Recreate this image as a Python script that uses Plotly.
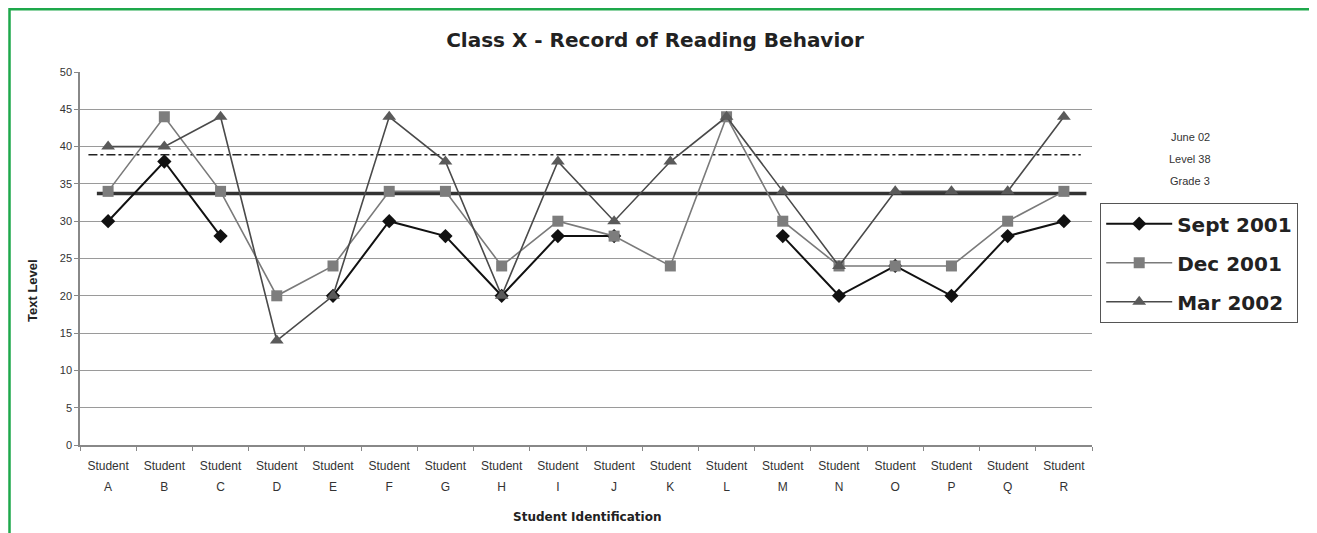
import plotly.graph_objects as go

students = ["A", "B", "C", "D", "E", "F", "G", "H", "I", "J", "K", "L", "M", "N", "O", "P", "Q", "R"]
tick_labels = ['<span style="font-size:12px">Student<br>' + s + '</span>' for s in students]

sept_2001 = [30, 38, 28, None, 20, 30, 28, 20, 28, 28, None, None, 28, 20, 24, 20, 28, 30]
dec_2001 = [34, 44, 34, 20, 24, 34, 34, 24, 30, 28, 24, 44, 30, 24, 24, 24, 30, 34]
mar_2002 = [40, 40, 44, 14, 20, 44, 38, 20, 38, 30, 38, 44, 34, 24, 34, 34, 34, 44]

grade_level = 33.7      # thick solid reference line
june_target = 38.9      # dash-dot reference line (June 02, Level 38)
target_notes = ["June 02", "Level 38", "Grade 3"]

# page has an 8px body margin, so the figure is drawn 8px smaller and offset
OFF = 8
W, H = 1317 - OFF, 533 - OFF
L, T = 80 - OFF, 72 - OFF
R = W - (1092 - OFF)
B = H - (445 - OFF)


def px_x(px):
    return (px - OFF - L) / (W - L - R)


def px_y(py):
    return (H - B - (py - OFF)) / (H - T - B)


fig = go.Figure()

fig.add_trace(go.Scatter(
    x=students, y=sept_2001, name="Sept 2001", mode="lines+markers", legendgroup="a",
    line=dict(color="#111111", width=2),
    marker=dict(symbol="diamond", size=11, color="#111111"),
    connectgaps=False))
fig.add_trace(go.Scatter(
    x=students, y=dec_2001, name="Dec 2001", mode="lines+markers", legendgroup="b",
    line=dict(color="#7a7a7a", width=1.6),
    marker=dict(symbol="square", size=11, color="#7d7d7d"),
    connectgaps=False))
fig.add_trace(go.Scatter(
    x=students, y=mar_2002, name="Mar 2002", mode="lines+markers", legendgroup="c",
    line=dict(color="#4a4a4a", width=1.6),
    marker=dict(symbol="triangle-up", size=12, color="#5a5a5a"),
    connectgaps=False))

# reference lines
fig.add_shape(type="line", xref="x", yref="y", x0=-0.2, x1=17.4,
              y0=grade_level, y1=grade_level,
              line=dict(color="#333333", width=3.5), layer="below")
fig.add_shape(type="line", xref="x", yref="y", x0=-0.35, x1=17.3,
              y0=june_target, y1=june_target,
              line=dict(color="#222222", width=1.6, dash="dashdot"), layer="below")

# green frame
fig.add_shape(type="rect", xref="paper", yref="paper",
              x0=px_x(OFF + 1.5), x1=px_x(1312), y0=px_y(560), y1=px_y(OFF + 1.2),
              line=dict(color="#1ea84b", width=2.5), fillcolor="rgba(0,0,0,0)")

for i, note in enumerate(target_notes):
    fig.add_annotation(xref="paper", yref="paper", x=px_x(1190), y=px_y(137 + 22 * i),
                       xanchor="center", yanchor="middle",
                       text=note, showarrow=False,
                       font=dict(family="Liberation Sans", size=11, color="#333333"))

# axis titles
fig.add_annotation(xref="paper", yref="paper", x=px_x(587), y=px_y(517),
                   xanchor="center", yanchor="middle", showarrow=False,
                   text="<b>Student Identification</b>",
                   font=dict(family="DejaVu Sans", size=12, color="#222222"))
fig.add_annotation(xref="paper", yref="paper", x=px_x(32), y=px_y(291),
                   xanchor="center", yanchor="middle", showarrow=False, textangle=-90,
                   text="<b>Text Level</b>",
                   font=dict(family="Liberation Sans", size=13, color="#222222"))

fig.update_layout(
    width=W, height=H,
    margin=dict(l=L, r=R, t=T, b=B),
    paper_bgcolor="white", plot_bgcolor="white",
    font=dict(family="Liberation Sans", color="#222222"),
    title=dict(text="<b>Class X - Record of Reading Behavior</b>",
               x=(655 - OFF) / W, xanchor="center", y=1 - (40 - OFF) / H, yanchor="middle",
               font=dict(family="DejaVu Sans", size=20, color="#222222")),
    showlegend=True,
    legend=dict(x=px_x(1100), y=px_y(203), xanchor="left", yanchor="top",
                bordercolor="#555555", borderwidth=1.2, bgcolor="white",
                font=dict(family="DejaVu Sans", size=20, color="#222222", weight="bold"),
                itemwidth=66, tracegroupgap=10, traceorder="grouped"),
    xaxis=dict(
        type="category", range=[-0.5, 17.5],
        tickvals=students, ticktext=tick_labels,
        tickfont=dict(family="Liberation Sans", size=16, color="#333333"),
        ticks="outside", tickson="boundaries", ticklen=4, tickcolor="#888888",
        ticklabelstandoff=4,
        showline=True, linecolor="#888888", linewidth=1.5,
        showgrid=False, zeroline=False),
    yaxis=dict(
        range=[0, 50], dtick=5,
        tickfont=dict(family="Liberation Sans", size=11, color="#333333"),
        ticks="outside", ticklen=4, tickcolor="#888888",
        showline=True, linecolor="#888888", linewidth=1.5,
        showgrid=True, gridcolor="#9a9a9a", gridwidth=1,
        zeroline=False),
)

fig.write_html("out.html")
